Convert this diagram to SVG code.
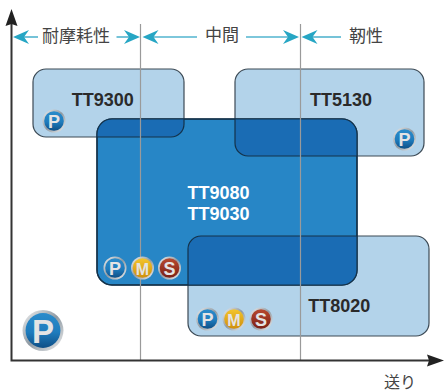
<svg xmlns="http://www.w3.org/2000/svg" width="444" height="392" viewBox="0 0 444 392">
<style>
.jp{font-family:"Noto Sans CJK JP","Liberation Sans",sans-serif;font-size:17px;fill:#444}
.tt{font-family:"Liberation Sans",Arial,sans-serif;font-size:18px;font-weight:700;fill:#2a2a2a;text-anchor:middle}
.box{stroke:#3c4a55;stroke-width:1.2}
.light{fill:#b3d3ea}
.main{fill:#2786c6;stroke:#14324a;stroke-width:1.4}
.over{fill:#1a6cb4}
.edge{fill:none;stroke:#14324a;stroke-width:1.2}
.guide{stroke:#9a9a9a;stroke-width:1.2}
.ar{stroke:#52b4cf;stroke-width:1.6;fill:none}
.bl{font-family:"Liberation Sans",Arial,sans-serif;font-weight:700;font-size:18px;fill:#e4e4e4;text-anchor:middle}
</style>
<defs>
<path id="ah" d="M0 0L-16 -7L-11 0L-16 7Z" fill="#26a6c4"/>
<linearGradient id="gp" x1="0" y1="0" x2="0" y2="1"><stop offset="0" stop-color="#2b8ccb"/><stop offset="0.55" stop-color="#1f7cbd"/><stop offset="1" stop-color="#0f4f86"/></linearGradient>
<linearGradient id="gm" x1="0" y1="0" x2="0" y2="1"><stop offset="0" stop-color="#f3c52c"/><stop offset="1" stop-color="#cf8f0e"/></linearGradient>
<linearGradient id="gs" x1="0" y1="0" x2="0" y2="1"><stop offset="0" stop-color="#b8492f"/><stop offset="1" stop-color="#7c2015"/></linearGradient>
<linearGradient id="rim" x1="0" y1="0" x2="1" y2="1"><stop offset="0" stop-color="#f2f2f2"/><stop offset="0.5" stop-color="#8f9aa3"/><stop offset="1" stop-color="#f0f0f0"/></linearGradient>
<clipPath id="c9080"><rect x="97" y="119" width="260" height="166" rx="15"/></clipPath>
<g id="bp"><circle r="11.500" fill="url(#rim)"/><circle r="9.800" fill="url(#gp)"/></g>
<g id="bm"><circle r="11.500" fill="url(#rim)"/><circle r="9.800" fill="url(#gm)"/></g>
<g id="bs"><circle r="11.500" fill="url(#rim)"/><circle r="9.800" fill="url(#gs)"/></g>
</defs>
<rect width="444" height="392" fill="#fff"/>

<g id="node-tt9300"><rect class="light box" x="33" y="69" width="151" height="68" rx="13"/><text class="tt" x="102.700" y="106">TT9300</text></g>
<g id="node-tt5130"><rect class="light box" x="235" y="69" width="189" height="87" rx="13"/><text class="tt" x="341" y="106">TT5130</text></g>
<g id="node-tt8020"><rect class="light box" x="188" y="236" width="241" height="100" rx="13"/><text class="tt" x="339.200" y="312">TT8020</text></g>
<g id="node-tt9080">
<rect class="main" x="97" y="119" width="260" height="166" rx="15"/>
<g clip-path="url(#c9080)">
<rect class="over" x="33" y="69" width="151" height="68" rx="13"/>
<rect class="over" x="235" y="69" width="189" height="87" rx="13"/>
<rect class="over" x="188" y="236" width="241" height="100" rx="13"/>
<rect class="edge" x="33" y="69" width="151" height="68" rx="13"/>
<rect class="edge" x="235" y="69" width="189" height="87" rx="13"/>
<rect class="edge" x="188" y="236" width="241" height="100" rx="13"/>
</g>
<rect class="edge" x="97" y="119" width="260" height="166" rx="15"/>
<text class="tt" style="fill:#fff" x="218.500" y="198.500">TT9080</text><text class="tt" style="fill:#fff" x="218.500" y="219.500">TT9030</text>
</g>

<g id="connectors">
<line class="guide" x1="140.500" y1="24" x2="140.500" y2="360"/>
<line class="guide" x1="300.500" y1="24" x2="300.500" y2="360"/>
<path d="M11.500 20V360.500H430" fill="none" stroke="#333" stroke-width="2"/>
<path d="M11.500 9L17.500 26L11.500 24L5.500 26Z" fill="#222"/>
<path d="M444 360.500L427 354.500L429 360.500L427 366.500Z" fill="#222"/>
<line class="ar" x1="22" y1="37" x2="38" y2="37"/><use href="#ah" transform="translate(13 37) rotate(180)"/>
<line class="ar" x1="116.500" y1="37" x2="132" y2="37"/><use href="#ah" transform="translate(140 37)"/>
<line class="ar" x1="150" y1="37" x2="197" y2="37"/><use href="#ah" transform="translate(142.500 37) rotate(180)"/>
<line class="ar" x1="246" y1="37" x2="290" y2="37"/><use href="#ah" transform="translate(299 37)"/>
<line class="ar" x1="310" y1="37" x2="341" y2="37"/><use href="#ah" transform="translate(301.500 37) rotate(180)"/>
</g>

<g id="labels">
<text class="jp" x="42" y="42">耐摩耗性</text>
<text class="jp" x="205" y="41">中間</text>
<text class="jp" x="349" y="42">靭性</text>
<text class="jp" x="384" y="388" style="font-size:16px">送り</text>
</g>

<g id="node-badge-tt9300"><use href="#bp" transform="translate(54 121)"/><text class="bl" x="54" y="127.500">P</text></g>
<g id="node-badge-tt5130"><use href="#bp" transform="translate(404.500 139)"/><text class="bl" x="404.500" y="145.500">P</text></g>
<g id="node-badge-p1"><use href="#bp" transform="translate(115 268)"/><text class="bl" x="115" y="274.500">P</text></g>
<g id="node-badge-m1"><use href="#bm" transform="translate(142.500 268)"/><text class="bl" x="142.500" y="274.500" style="font-size:16px">M</text></g>
<g id="node-badge-s1"><use href="#bs" transform="translate(169.500 268)"/><text class="bl" x="169.500" y="274.500">S</text></g>
<g id="node-badge-p2"><use href="#bp" transform="translate(207.500 319)"/><text class="bl" x="207.500" y="325.500">P</text></g>
<g id="node-badge-m2"><use href="#bm" transform="translate(234 319)"/><text class="bl" x="234" y="325.500" style="font-size:16px">M</text></g>
<g id="node-badge-s2"><use href="#bs" transform="translate(261 319)"/><text class="bl" x="261" y="325.500">S</text></g>
<g id="node-badge-large"><use href="#bp" transform="translate(43 330.500) scale(1.780)"/><text class="bl" x="43" y="343" style="font-size:33px">P</text></g>
</svg>
